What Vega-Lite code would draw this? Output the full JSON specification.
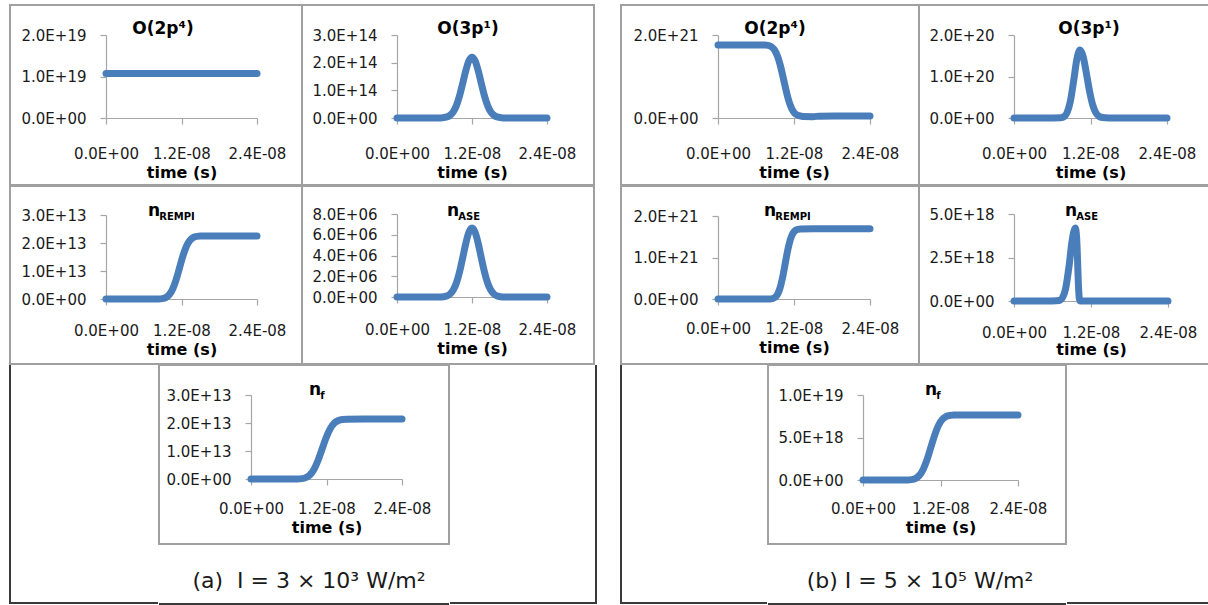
{
  "$schema": "https://vega.github.io/schema/vega-lite/v6.json",
  "padding": {"left": 9, "top": 4, "right": 0, "bottom": 0},
  "background": "white",
  "config": {
    "font": "DejaVu Sans",
    "view": {"stroke": "#a0a0a0", "strokeWidth": 2},
    "line": {"color": "#4a7ebb", "strokeWidth": 7, "strokeCap": "round", "strokeJoin": "round", "interpolate": "monotone"},
    "axis": {
      "grid": false,
      "domainColor": "#a6a6a6",
      "domainWidth": 1.2,
      "tickColor": "#a6a6a6",
      "tickWidth": 1.2,
      "tickSize": 6,
      "labelFont": "DejaVu Sans",
      "labelFontSize": 15,
      "labelColor": "#1a1a1a",
      "labelFlush": false,
      "labelOverlap": false,
      "titleFont": "DejaVu Sans",
      "titleFontSize": 16,
      "titleFontWeight": "bold",
      "titleColor": "#000000",
      "labelExpr": "replace(upper(format(datum.value, '.1e')), regexp('([+-])(?=[0-9]$)'), '$&0')"
    },
    "axisX": {"labelPadding": 22, "titlePadding": 3},
    "axisY": {"labelPadding": 14},
    "title": {
      "font": "DejaVu Sans",
      "fontSize": 17,
      "fontWeight": "bold",
      "color": "#000000",
      "frame": "group",
      "subtitleFont": "DejaVu Sans",
      "subtitleFontSize": 10,
      "subtitleFontWeight": "bold",
      "subtitleColor": "#000000",
      "subtitlePadding": -7.5
    }
  },
  "datasets": {
    "A1": [
      {"t": 0, "v": 1.07e19}, {"t": 0.6e-8, "v": 1.07e19}, {"t": 1.2e-8, "v": 1.07e19}, {"t": 1.8e-8, "v": 1.07e19}, {"t": 2.4e-8, "v": 1.07e19}
    ],
    "A2": [
      {"t": 0, "v": 0}, {"t": 0.4e-8, "v": 0}, {"t": 0.7e-8, "v": 3.7e11}, {"t": 0.8e-8, "v": 3.7e12}, {"t": 0.85e-8, "v": 9.7e12},
      {"t": 0.9e-8, "v": 2.21e13}, {"t": 0.95e-8, "v": 4.47e13}, {"t": 1.0e-8, "v": 7.93e13}, {"t": 1.05e-8, "v": 1.239e14},
      {"t": 1.1e-8, "v": 1.705e14}, {"t": 1.15e-8, "v": 2.064e14}, {"t": 1.2e-8, "v": 2.2e14}, {"t": 1.25e-8, "v": 2.064e14},
      {"t": 1.3e-8, "v": 1.705e14}, {"t": 1.35e-8, "v": 1.239e14}, {"t": 1.4e-8, "v": 7.93e13}, {"t": 1.45e-8, "v": 4.47e13},
      {"t": 1.5e-8, "v": 2.21e13}, {"t": 1.55e-8, "v": 9.7e12}, {"t": 1.6e-8, "v": 3.7e12}, {"t": 1.7e-8, "v": 3.7e11},
      {"t": 2.0e-8, "v": 0}, {"t": 2.4e-8, "v": 0}
    ],
    "A3": [
      {"t": 0, "v": 0}, {"t": 0.6e-8, "v": 0}, {"t": 0.84e-8, "v": 3.0e10}, {"t": 0.895e-8, "v": 1.4e11}, {"t": 0.95e-8, "v": 5.1e11},
      {"t": 1.005e-8, "v": 1.5e12}, {"t": 1.06e-8, "v": 3.57e12}, {"t": 1.115e-8, "v": 6.94e12}, {"t": 1.17e-8, "v": 1.125e13},
      {"t": 1.225e-8, "v": 1.556e13}, {"t": 1.28e-8, "v": 1.893e13}, {"t": 1.335e-8, "v": 2.1e13}, {"t": 1.39e-8, "v": 2.199e13},
      {"t": 1.445e-8, "v": 2.236e13}, {"t": 1.5e-8, "v": 2.247e13}, {"t": 1.8e-8, "v": 2.25e13}, {"t": 2.4e-8, "v": 2.25e13}
    ],
    "A4": [
      {"t": 0, "v": 0}, {"t": 0.4e-8, "v": 0}, {"t": 0.7e-8, "v": 1.1e4}, {"t": 0.8e-8, "v": 1.12e5}, {"t": 0.85e-8, "v": 2.92e5},
      {"t": 0.9e-8, "v": 6.69e5}, {"t": 0.95e-8, "v": 1.35e6}, {"t": 1.0e-8, "v": 2.4e6}, {"t": 1.05e-8, "v": 3.74e6},
      {"t": 1.1e-8, "v": 5.15e6}, {"t": 1.15e-8, "v": 6.24e6}, {"t": 1.2e-8, "v": 6.65e6}, {"t": 1.25e-8, "v": 6.24e6},
      {"t": 1.3e-8, "v": 5.15e6}, {"t": 1.35e-8, "v": 3.74e6}, {"t": 1.4e-8, "v": 2.4e6}, {"t": 1.45e-8, "v": 1.35e6},
      {"t": 1.5e-8, "v": 6.69e5}, {"t": 1.55e-8, "v": 2.92e5}, {"t": 1.6e-8, "v": 1.12e5}, {"t": 1.7e-8, "v": 1.1e4},
      {"t": 2.0e-8, "v": 0}, {"t": 2.4e-8, "v": 0}
    ],
    "A5": [
      {"t": 0, "v": 0}, {"t": 0.5e-8, "v": 0}, {"t": 0.74e-8, "v": 2.9e10}, {"t": 0.805e-8, "v": 1.33e11}, {"t": 0.87e-8, "v": 4.88e11},
      {"t": 0.935e-8, "v": 1.43e12}, {"t": 1.0e-8, "v": 3.4e12}, {"t": 1.065e-8, "v": 6.6e12}, {"t": 1.13e-8, "v": 1.07e13},
      {"t": 1.195e-8, "v": 1.48e13}, {"t": 1.26e-8, "v": 1.8e13}, {"t": 1.325e-8, "v": 2.0e13}, {"t": 1.39e-8, "v": 2.09e13},
      {"t": 1.455e-8, "v": 2.127e13}, {"t": 1.52e-8, "v": 2.137e13}, {"t": 1.8e-8, "v": 2.14e13}, {"t": 2.4e-8, "v": 2.14e13}
    ],
    "B1": [
      {"t": 0, "v": 1.76e21}, {"t": 0.5e-8, "v": 1.76e21}, {"t": 0.74e-8, "v": 1.757e21}, {"t": 0.79e-8, "v": 1.749e21},
      {"t": 0.84e-8, "v": 1.721e21}, {"t": 0.89e-8, "v": 1.645e21}, {"t": 0.94e-8, "v": 1.487e21}, {"t": 0.99e-8, "v": 1.229e21},
      {"t": 1.04e-8, "v": 0.9e21}, {"t": 1.09e-8, "v": 0.571e21}, {"t": 1.14e-8, "v": 0.313e21}, {"t": 1.19e-8, "v": 0.155e21},
      {"t": 1.24e-8, "v": 0.079e21}, {"t": 1.29e-8, "v": 0.051e21}, {"t": 1.34e-8, "v": 0.035e21}, {"t": 1.5e-8, "v": 0.033e21},
      {"t": 1.6e-8, "v": 0.045e21}, {"t": 2.0e-8, "v": 0.048e21}, {"t": 2.4e-8, "v": 0.048e21}
    ],
    "B2": [
      {"t": 0, "v": 0}, {"t": 0.5e-8, "v": 0}, {"t": 0.735e-8, "v": 6.4e17}, {"t": 0.785e-8, "v": 3.46e18}, {"t": 0.835e-8, "v": 1.39e19},
      {"t": 0.885e-8, "v": 4.08e19}, {"t": 0.935e-8, "v": 8.84e19}, {"t": 0.985e-8, "v": 1.406e20}, {"t": 1.035e-8, "v": 1.64e20},
      {"t": 1.085e-8, "v": 1.479e20}, {"t": 1.135e-8, "v": 1.084e20}, {"t": 1.185e-8, "v": 6.48e19}, {"t": 1.235e-8, "v": 3.13e19},
      {"t": 1.285e-8, "v": 1.24e19}, {"t": 1.335e-8, "v": 3.99e18}, {"t": 1.385e-8, "v": 1.03e18}, {"t": 1.485e-8, "v": 3e16},
      {"t": 1.8e-8, "v": 0}, {"t": 2.4e-8, "v": 0}
    ],
    "B3": [
      {"t": 0, "v": 0}, {"t": 0.6e-8, "v": 0}, {"t": 0.82e-8, "v": 2.3e18}, {"t": 0.86e-8, "v": 1.05e19}, {"t": 0.9e-8, "v": 3.85e19},
      {"t": 0.94e-8, "v": 1.13e20}, {"t": 0.98e-8, "v": 2.68e20}, {"t": 1.02e-8, "v": 5.21e20}, {"t": 1.06e-8, "v": 8.45e20},
      {"t": 1.1e-8, "v": 1.169e21}, {"t": 1.14e-8, "v": 1.422e21}, {"t": 1.18e-8, "v": 1.577e21}, {"t": 1.22e-8, "v": 1.651e21},
      {"t": 1.26e-8, "v": 1.68e21}, {"t": 1.3e-8, "v": 1.688e21}, {"t": 1.5e-8, "v": 1.69e21}, {"t": 2.4e-8, "v": 1.69e21}
    ],
    "B4": [
      {"t": 0, "v": 0}, {"t": 0.5e-8, "v": 0}, {"t": 0.705e-8, "v": 3.2e16}, {"t": 0.755e-8, "v": 1.85e17}, {"t": 0.805e-8, "v": 7.2e17},
      {"t": 0.855e-8, "v": 1.92e18}, {"t": 0.905e-8, "v": 3.45e18}, {"t": 0.955e-8, "v": 4.2e18}, {"t": 0.975e-8, "v": 3.7e18},
      {"t": 0.99e-8, "v": 2.4e18}, {"t": 1.0e-8, "v": 1.3e18}, {"t": 1.01e-8, "v": 5e17}, {"t": 1.02e-8, "v": 1e17},
      {"t": 1.035e-8, "v": 0}, {"t": 2.4e-8, "v": 0}
    ],
    "B5": [
      {"t": 0, "v": 0}, {"t": 0.5e-8, "v": 0}, {"t": 0.69e-8, "v": 1.0e16}, {"t": 0.75e-8, "v": 4.7e16}, {"t": 0.81e-8, "v": 1.74e17},
      {"t": 0.87e-8, "v": 5.11e17}, {"t": 0.93e-8, "v": 1.214e18}, {"t": 0.99e-8, "v": 2.36e18}, {"t": 1.05e-8, "v": 3.825e18},
      {"t": 1.11e-8, "v": 5.29e18}, {"t": 1.17e-8, "v": 6.44e18}, {"t": 1.23e-8, "v": 7.14e18}, {"t": 1.29e-8, "v": 7.48e18},
      {"t": 1.35e-8, "v": 7.6e18}, {"t": 1.41e-8, "v": 7.64e18}, {"t": 1.6e-8, "v": 7.65e18}, {"t": 2.4e-8, "v": 7.65e18}
    ]
  },
  "hconcat": [
    {
      "vconcat": [
        {
          "hconcat": [
            {
              "width": 292, "height": 180,
              "data": {"name": "A1"},
              "mark": "line",
              "title": {"text": "O(2p⁴)", "anchor": "middle", "dx": 7, "offset": -33},
              "encoding": {
                "x": {"field": "t", "type": "quantitative", "scale": {"domain": [0, 2.4e-8], "range": [96, 247], "nice": false}, "axis": {"values": [0, 1.2e-8, 2.4e-8], "offset": -67, "title": "time (s)"}},
                "y": {"field": "v", "type": "quantitative", "scale": {"domain": [0, 2e19], "range": [113, 30], "nice": false}, "axis": {"values": [0, 1e19, 2e19], "offset": -96, "title": null}}
              }
            },
            {
              "width": 292, "height": 180,
              "data": {"name": "A2"},
              "mark": "line",
              "title": {"text": "O(3p¹)", "anchor": "middle", "dx": 20, "offset": -33},
              "encoding": {
                "x": {"field": "t", "type": "quantitative", "scale": {"domain": [0, 2.4e-8], "range": [95, 245], "nice": false}, "axis": {"values": [0, 1.2e-8, 2.4e-8], "offset": -67, "title": "time (s)"}},
                "y": {"field": "v", "type": "quantitative", "scale": {"domain": [0, 3e14], "range": [113, 30], "nice": false}, "axis": {"values": [0, 1e14, 2e14, 3e14], "offset": -95, "title": null}}
              }
            }
          ],
          "spacing": 0, "bounds": "flush"
        },
        {
          "hconcat": [
            {
              "width": 292, "height": 178,
              "data": {"name": "A3"},
              "mark": "line",
              "title": {"text": "n", "subtitle": "\u2800\u00a0REMPI", "anchor": "start", "dx": 138, "offset": -37},
              "encoding": {
                "x": {"field": "t", "type": "quantitative", "scale": {"domain": [0, 2.4e-8], "range": [96, 247], "nice": false}, "axis": {"values": [0, 1.2e-8, 2.4e-8], "offset": -65, "title": "time (s)", "labelPadding": 18}},
                "y": {"field": "v", "type": "quantitative", "scale": {"domain": [0, 3e13], "range": [113, 29], "nice": false}, "axis": {"values": [0, 1e13, 2e13, 3e13], "offset": -96, "title": null}}
              }
            },
            {
              "width": 292, "height": 178,
              "data": {"name": "A4"},
              "mark": "line",
              "title": {"text": "n", "subtitle": "\u2800\u00a0ASE", "anchor": "start", "dx": 145, "offset": -37},
              "encoding": {
                "x": {"field": "t", "type": "quantitative", "scale": {"domain": [0, 2.4e-8], "range": [95, 245], "nice": false}, "axis": {"values": [0, 1.2e-8, 2.4e-8], "offset": -67, "title": "time (s)", "labelPadding": 19}},
                "y": {"field": "v", "type": "quantitative", "scale": {"domain": [0, 8e6], "range": [111, 28], "nice": false}, "axis": {"values": [0, 2e6, 4e6, 6e6, 8e6], "offset": -95, "title": null}}
              }
            }
          ],
          "spacing": 0, "bounds": "flush"
        },
        {
          "hconcat": [
            {
              "width": 148, "height": 238,
              "data": {"values": []},
              "mark": "point",
              "view": {"stroke": "#3a3a3a", "strokeWidth": 2, "strokeDash": [0, 386, 386, 0]}
            },
            {
              "vconcat": [
                {
                  "width": 290, "height": 179,
                  "data": {"name": "A5"},
                  "mark": "line",
                  "title": {"text": "n", "subtitle": "\u2800\u00a0f", "anchor": "start", "dx": 150, "offset": -37},
                  "encoding": {
                    "x": {"field": "t", "type": "quantitative", "scale": {"domain": [0, 2.4e-8], "range": [92, 243], "nice": false}, "axis": {"values": [0, 1.2e-8, 2.4e-8], "offset": -65, "title": "time (s)", "labelPadding": 16}},
                    "y": {"field": "v", "type": "quantitative", "scale": {"domain": [0, 3e13], "range": [114, 30], "nice": false}, "axis": {"values": [0, 1e13, 2e13, 3e13], "offset": -92, "title": null}}
                  }
                },
                {
                  "width": 290, "height": 59,
                  "data": {"values": []},
                  "mark": "point",
                  "view": {"stroke": "#3a3a3a", "strokeWidth": 2, "strokeDash": [0, 349, 290, 59]},
                  "title": {"text": "(a)\u00a0 I = 3 × 10³ W/m²", "orient": "top", "anchor": "middle", "dx": 5, "offset": -48, "fontSize": 22, "fontWeight": "normal", "color": "#1a1a1a"}
                }
              ],
              "spacing": -2
            },
            {
              "width": 146, "height": 238,
              "data": {"values": []},
              "mark": "point",
              "view": {"stroke": "#3a3a3a", "strokeWidth": 2, "strokeDash": [0, 146, 384, 238]}
            }
          ],
          "spacing": -2
        }
      ],
      "spacing": -2
    },
    {
      "vconcat": [
        {
          "hconcat": [
            {
              "width": 298, "height": 180,
              "data": {"name": "B1"},
              "mark": "line",
              "title": {"text": "O(2p⁴)", "anchor": "middle", "dx": 5, "offset": -33},
              "encoding": {
                "x": {"field": "t", "type": "quantitative", "scale": {"domain": [0, 2.4e-8], "range": [97, 249], "nice": false}, "axis": {"values": [0, 1.2e-8, 2.4e-8], "offset": -67, "title": "time (s)"}},
                "y": {"field": "v", "type": "quantitative", "scale": {"domain": [0, 2e21], "range": [113, 30], "nice": false}, "axis": {"values": [0, 2e21], "offset": -97, "title": null}}
              }
            },
            {
              "width": 290, "height": 180,
              "data": {"name": "B2"},
              "mark": "line",
              "view": {"strokeDash": [290, 180, 470, 0]},
              "title": {"text": "O(3p¹)", "anchor": "middle", "dx": 25, "offset": -33},
              "encoding": {
                "x": {"field": "t", "type": "quantitative", "scale": {"domain": [0, 2.4e-8], "range": [95, 248], "nice": false}, "axis": {"values": [0, 1.2e-8, 2.4e-8], "offset": -67, "title": "time (s)"}},
                "y": {"field": "v", "type": "quantitative", "scale": {"domain": [0, 2e20], "range": [113, 30], "nice": false}, "axis": {"values": [0, 1e20, 2e20], "offset": -95, "title": null}}
              }
            }
          ],
          "spacing": 0, "bounds": "flush"
        },
        {
          "hconcat": [
            {
              "width": 298, "height": 178,
              "data": {"name": "B3"},
              "mark": "line",
              "title": {"text": "n", "subtitle": "\u2800\u00a0REMPI", "anchor": "start", "dx": 143, "offset": -37},
              "encoding": {
                "x": {"field": "t", "type": "quantitative", "scale": {"domain": [0, 2.4e-8], "range": [97, 249], "nice": false}, "axis": {"values": [0, 1.2e-8, 2.4e-8], "offset": -65, "title": "time (s)", "labelPadding": 16}},
                "y": {"field": "v", "type": "quantitative", "scale": {"domain": [0, 2e21], "range": [113, 30], "nice": false}, "axis": {"values": [0, 1e21, 2e21], "offset": -97, "title": null}}
              }
            },
            {
              "width": 290, "height": 178,
              "data": {"name": "B4"},
              "mark": "line",
              "view": {"strokeDash": [290, 178, 468, 0]},
              "title": {"text": "n", "subtitle": "\u2800\u00a0ASE", "anchor": "start", "dx": 146, "offset": -37},
              "encoding": {
                "x": {"field": "t", "type": "quantitative", "scale": {"domain": [0, 2.4e-8], "range": [95, 249], "nice": false}, "axis": {"values": [0, 1.2e-8, 2.4e-8], "offset": -63, "title": "time (s)", "labelPadding": 18, "titlePadding": 1}},
                "y": {"field": "v", "type": "quantitative", "scale": {"domain": [0, 5e18], "range": [115, 28], "nice": false}, "axis": {"values": [0, 2.5e18, 5e18], "offset": -95, "title": null}}
              }
            }
          ],
          "spacing": 0, "bounds": "flush"
        },
        {
          "hconcat": [
            {
              "width": 146, "height": 238,
              "data": {"values": []},
              "mark": "point",
              "view": {"stroke": "#3a3a3a", "strokeWidth": 2, "strokeDash": [0, 384, 384, 0]}
            },
            {
              "vconcat": [
                {
                  "width": 298, "height": 179,
                  "data": {"name": "B5"},
                  "mark": "line",
                  "title": {"text": "n", "subtitle": "\u2800\u00a0f", "anchor": "start", "dx": 157, "offset": -37},
                  "encoding": {
                    "x": {"field": "t", "type": "quantitative", "scale": {"domain": [0, 2.4e-8], "range": [95, 250], "nice": false}, "axis": {"values": [0, 1.2e-8, 2.4e-8], "offset": -64, "title": "time (s)", "labelPadding": 15}},
                    "y": {"field": "v", "type": "quantitative", "scale": {"domain": [0, 1e19], "range": [115, 30], "nice": false}, "axis": {"values": [0, 5e18, 1e19], "offset": -95, "title": null}}
                  }
                },
                {
                  "width": 298, "height": 59,
                  "data": {"values": []},
                  "mark": "point",
                  "view": {"stroke": "#3a3a3a", "strokeWidth": 2, "strokeDash": [0, 357, 298, 59]},
                  "title": {"text": "(b) I = 5 × 10⁵ W/m²", "orient": "top", "anchor": "middle", "dx": 3, "offset": -48, "fontSize": 22, "fontWeight": "normal", "color": "#1a1a1a"}
                }
              ],
              "spacing": -2
            },
            {
              "width": 144, "height": 238,
              "data": {"values": []},
              "mark": "point",
              "view": {"stroke": "#3a3a3a", "strokeWidth": 2, "strokeDash": [0, 382, 144, 238]}
            }
          ],
          "spacing": -2
        }
      ],
      "spacing": -2
    }
  ],
  "spacing": 23
}
